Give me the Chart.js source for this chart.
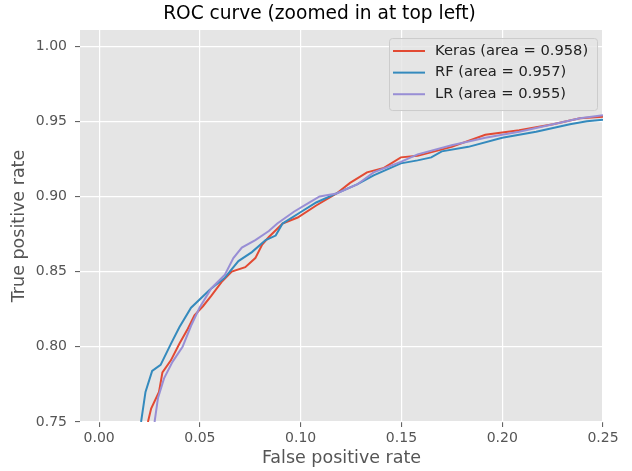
<!DOCTYPE html>
<html>
<head>
<meta charset="utf-8">
<script src="https://cdn.jsdelivr.net/npm/chart.js@4/dist/chart.umd.min.js"></script>
<style>
  html, body { margin: 0; padding: 0; background: #fff; }
</style>
</head>
<body>
<canvas id="myChart" width="632" height="471"></canvas>
<script>
// Series labels
var seriesLabels = ["Keras (area = 0.958)", "RF (area = 0.957)", "LR (area = 0.955)"];

// ROC points (false positive rate / true positive rate)
var kerasFpr = [0.0242, 0.0258, 0.0297, 0.0314, 0.0356, 0.0398, 0.0440, 0.0473, 0.0515, 0.0557, 0.0607, 0.0658, 0.0725, 0.0775, 0.0809, 0.0842, 0.0910, 0.0985, 0.1077, 0.1178, 0.1245, 0.1329, 0.1413, 0.1497, 0.1580, 0.1749, 0.1916, 0.2084, 0.2252, 0.2386, 0.2500];
var kerasTpr = [0.750, 0.759, 0.770, 0.783, 0.791, 0.802, 0.812, 0.821, 0.827, 0.834, 0.843, 0.850, 0.853, 0.859, 0.868, 0.873, 0.882, 0.886, 0.894, 0.902, 0.909, 0.916, 0.919, 0.926, 0.927, 0.933, 0.941, 0.944, 0.948, 0.952, 0.953];

var rfFpr = [0.0208, 0.0230, 0.0263, 0.0305, 0.0356, 0.0398, 0.0456, 0.0549, 0.0624, 0.0691, 0.0758, 0.0826, 0.0876, 0.0910, 0.0993, 0.1077, 0.1178, 0.1280, 0.1362, 0.1497, 0.1580, 0.1648, 0.1700, 0.1832, 0.2000, 0.2168, 0.2336, 0.2420, 0.2500];
var rfTpr = [0.750, 0.770, 0.784, 0.788, 0.802, 0.813, 0.826, 0.838, 0.846, 0.857, 0.863, 0.871, 0.874, 0.882, 0.889, 0.896, 0.902, 0.908, 0.914, 0.922, 0.924, 0.926, 0.930, 0.933, 0.939, 0.943, 0.948, 0.950, 0.951];

var lrFpr = [0.0275, 0.0292, 0.0322, 0.0364, 0.0414, 0.0456, 0.0498, 0.0557, 0.0624, 0.0666, 0.0708, 0.0775, 0.0842, 0.0884, 0.0968, 0.1044, 0.1094, 0.1178, 0.1280, 0.1362, 0.1497, 0.1580, 0.1749, 0.1916, 0.2084, 0.2252, 0.2386, 0.2500];
var lrTpr = [0.750, 0.766, 0.779, 0.790, 0.800, 0.814, 0.826, 0.839, 0.848, 0.859, 0.866, 0.871, 0.877, 0.882, 0.890, 0.896, 0.900, 0.902, 0.908, 0.916, 0.923, 0.928, 0.934, 0.939, 0.943, 0.948, 0.952, 0.954];

// Tick labels
var xTicks = [0.00, 0.05, 0.10, 0.15, 0.20, 0.25];
var yTicks = [0.75, 0.80, 0.85, 0.90, 0.95, 1.00];

function toPoints(xs, ys) {
  return xs.map(function (x, i) { return { x: x, y: ys[i] }; });
}

// grey ggplot panel behind the grid
const panelBg = {
  id: "panelBg",
  afterLayout(chart) {
    // title sits a bit right of the canvas centre, like the original
    if (chart.titleBlock) {
      chart.titleBlock.left = 36;
      chart.titleBlock.right = 603;
    }
  },
  beforeDraw(chart) {
    const { ctx, chartArea: a } = chart;
    ctx.save();
    ctx.fillStyle = "#E5E5E5";
    ctx.fillRect(a.left, a.top, a.right - a.left, a.bottom - a.top);
    ctx.restore();
  },
};

// legend box inside the top right corner
const insideLegend = {
  id: "insideLegend",
  afterDraw(chart) {
    const { ctx, chartArea: a } = chart;
    const boxR = a.right - 6, boxT = a.top + 8, boxW = 208, boxH = 72;
    const boxL = boxR - boxW;
    ctx.save();
    ctx.fillStyle = "rgba(229,229,229,0.8)";
    ctx.strokeStyle = "#CCCCCC";
    ctx.lineWidth = 1;
    ctx.beginPath();
    ctx.roundRect(boxL + 0.5, boxT + 0.5, boxW, boxH, 3);
    ctx.fill();
    ctx.stroke();
    ctx.font = "14.7px 'DejaVu Sans'";
    ctx.textBaseline = "middle";
    chart.data.datasets.forEach(function (ds, i) {
      const y = boxT + 13 + i * 21.6;
      ctx.strokeStyle = ds.borderColor;
      ctx.lineWidth = 2;
      ctx.beginPath();
      ctx.moveTo(boxL + 4, y);
      ctx.lineTo(boxL + 36, y);
      ctx.stroke();
      ctx.fillStyle = "#222";
      ctx.fillText(ds.label, boxL + 46, y);
    });
    ctx.restore();
  },
};

const data = {
  datasets: [
    { label: seriesLabels[0], data: toPoints(kerasFpr, kerasTpr), borderColor: "#E24A33", order: 2 },
    { label: seriesLabels[1], data: toPoints(rfFpr, rfTpr), borderColor: "#348ABD", order: 1 },
    { label: seriesLabels[2], data: toPoints(lrFpr, lrTpr), borderColor: "#988ED5", order: 0 },
  ],
};

const tickFont = { family: "'DejaVu Sans'", size: 14 };
const titleFont = { family: "'DejaVu Sans'", size: 17.5 };

const config = {
  type: "line",
  data,
  options: {
    responsive: false,
    animation: false,
    devicePixelRatio: 1,
    layout: { padding: { left: 0, right: 29, top: 0, bottom: 0 } },
    elements: {
      line: { borderWidth: 2, tension: 0, fill: false },
      point: { radius: 0 },
    },
    plugins: {
      legend: { display: false },
      tooltip: { enabled: false },
      title: {
        display: true,
        text: "ROC curve (zoomed in at top left)",
        color: "#000",
        font: { family: "'DejaVu Sans'", size: 18.6, weight: "normal" },
        padding: { top: 3, bottom: 4.7 },
      },
    },
    scales: {
      x: {
        type: "linear",
        min: -0.0095,
        max: 0.25,
        afterBuildTicks(scale) { scale.ticks = xTicks.map(function (v) { return { value: v }; }); },
        afterFit(scale) { scale.height = 49; },
        ticks: {
          color: "#555555",
          font: tickFont,
          padding: 3,
          maxRotation: 0,
          callback: function (v) { return v.toFixed(2); },
        },
        grid: { color: "#FFFFFF", lineWidth: 1.2, tickColor: "#555555", tickLength: 5, tickWidth: 1 },
        border: { display: false },
        title: { display: true, text: "False positive rate", color: "#555555", font: titleFont, padding: { top: 0, bottom: 2.5 } },
      },
      y: {
        type: "linear",
        min: 0.75,
        max: 1.0107,
        afterBuildTicks(scale) { scale.ticks = yTicks.map(function (v) { return { value: v }; }); },
        afterFit(scale) { scale.width = 80; },
        ticks: {
          color: "#555555",
          font: tickFont,
          padding: 8,
          callback: function (v) { return v.toFixed(2); },
        },
        grid: { color: "#FFFFFF", lineWidth: 1.2, tickColor: "#555555", tickLength: 5, tickWidth: 1 },
        border: { display: false },
        title: { display: true, text: "True positive rate", color: "#555555", font: titleFont, padding: { top: 9, bottom: 0 } },
      },
    },
  },
  plugins: [panelBg, insideLegend],
};

const myChart = new Chart(document.getElementById("myChart"), config);
</script>
</body>
</html>
